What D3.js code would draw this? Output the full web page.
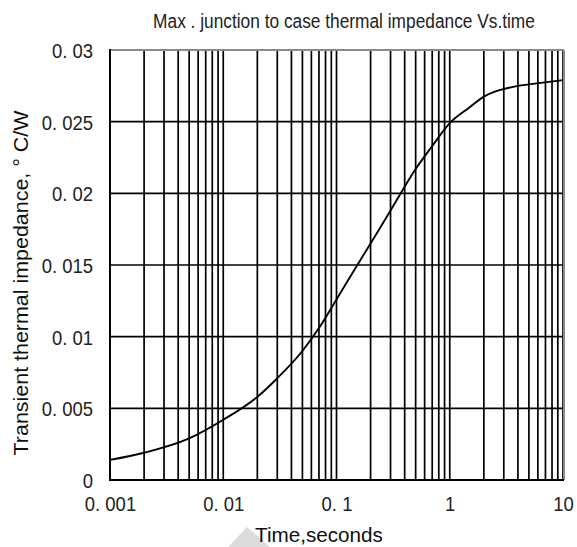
<!DOCTYPE html>
<html><head><meta charset="utf-8">
<script src="https://cdn.jsdelivr.net/npm/d3@7"></script>
<style>body{margin:0;background:#fff}svg{display:block}</style>
</head><body><svg id="c" width="577" height="547"></svg>
<script>
// ---- data ----
const times = [0.001, 0.002, 0.005, 0.01, 0.02, 0.03, 0.05, 0.07, 0.1, 0.15, 0.2, 0.3, 0.5, 0.7, 1, 1.5, 2, 2.5, 3, 4, 5, 10];
const impedance = [0.0014, 0.0019, 0.0029, 0.0042, 0.0058, 0.0071, 0.0090, 0.0106, 0.0126, 0.0149, 0.0165, 0.0188, 0.0217, 0.0233, 0.0249, 0.0260, 0.02675, 0.0271, 0.02728, 0.0275, 0.0276, 0.0279];
const xTickValues = [0.001, 0.01, 0.1, 1, 10];
const xTickLabels = ["0. 001", "0. 01", "0. 1", "1", "10"];
const yTickValues = [0, 0.005, 0.01, 0.015, 0.02, 0.025, 0.03];
const yTickLabels = ["0", "0. 005", "0. 01", "0. 015", "0. 02", "0. 025", "0. 03"];
const decades = [0.001, 0.01, 0.1, 1];
const multipliers = [1, 2, 3, 4, 5, 6, 7, 8, 9];
const title = "Max . junction to case thermal impedance Vs.time";
const xTitle = "Time,seconds";
const yTitle = "Transient thermal impedance, \u00b0 C/W";

// ---- layout ----
const L = 110, R = 563, T = 50, B = 480;
const FONT = "'Liberation Sans',Arial,sans-serif";
const SX = 0.88;
const svg = d3.select("#c");
const x = d3.scaleLog().domain([0.001, 10]).range([L, R]);
const y = d3.scaleLinear().domain([0, 0.03]).range([B, T]);

const xGrid = decades.flatMap(d => multipliers.map(m => d * m)).concat([10]);

// grid
svg.append("g").selectAll("line").data(xGrid).join("line")
  .attr("x1", d => x(d)).attr("x2", d => x(d))
  .attr("y1", T).attr("y2", B)
  .attr("stroke", "#000").attr("stroke-width", 1.7);
svg.append("g").selectAll("line").data(yTickValues).join("line")
  .attr("x1", L).attr("x2", R)
  .attr("y1", d => y(d)).attr("y2", d => y(d))
  .attr("stroke", "#000").attr("stroke-width", 1.7);

// frame: top & right grey, left & bottom black
svg.append("line").attr("x1", L).attr("x2", R + 1).attr("y1", T).attr("y2", T).attr("stroke", "#8a8a8a").attr("stroke-width", 2);
svg.append("line").attr("x1", R + 1).attr("x2", R + 1).attr("y1", T).attr("y2", B).attr("stroke", "#8a8a8a").attr("stroke-width", 2);
svg.append("line").attr("x1", L).attr("x2", L).attr("y1", T - 1).attr("y2", B + 1).attr("stroke", "#000").attr("stroke-width", 2);
svg.append("line").attr("x1", L - 1).attr("x2", R + 1).attr("y1", B).attr("y2", B).attr("stroke", "#000").attr("stroke-width", 2);

// curve
const line = d3.line().x(d => x(d[0])).y(d => y(d[1])).curve(d3.curveMonotoneX);
svg.append("path").datum(times.map((t, i) => [t, impedance[i]]))
  .attr("d", line).attr("fill", "none").attr("stroke", "#000").attr("stroke-width", 1.9);

// axes (labels only)
const xAxis = d3.axisBottom(x).tickValues(xTickValues).tickSize(0).tickPadding(0)
  .tickFormat((d, i) => xTickLabels[i]);
const gx = svg.append("g").attr("transform", `translate(0,${B})`).call(xAxis);
gx.select(".domain").remove();
gx.selectAll("text").attr("y", 31).attr("dy", null).attr("x", 0)
  .attr("transform", `scale(${SX},1)`)
  .style("font-family", FONT).style("font-size", "21px").attr("fill", "#222");

const yAxis = d3.axisLeft(y).tickValues(yTickValues).tickSize(0).tickPadding(0)
  .tickFormat((d, i) => yTickLabels[i]);
const gy = svg.append("g").attr("transform", `translate(${L},0)`).call(yAxis);
gy.select(".domain").remove();
gy.selectAll("text").attr("x", -17 / SX).attr("dy", "0.36em")
  .attr("transform", `scale(${SX},1)`)
  .style("font-family", FONT).style("font-size", "21px").attr("fill", "#222");

// decorative light grey triangle near x-axis title
svg.append("path").attr("d", "M247,527 L228,547 L270,547 Z").attr("fill", "#dcdcdc");

// titles: fit each to its measured width with a horizontal scale
function fitText(sel, width, base) {
  const w = sel.node().getComputedTextLength();
  sel.attr("transform", `${base} scale(${width / w},1)`);
}
const t1 = svg.append("text").attr("x", 0).attr("y", 0).attr("text-anchor", "middle")
  .style("font-family", FONT).style("font-size", "21px").attr("fill", "#222").text(title);
fitText(t1, 382, "translate(344,28)");
const t2 = svg.append("text").attr("x", 0).attr("y", 0).attr("text-anchor", "middle")
  .style("font-family", FONT).style("font-size", "20px").attr("fill", "#111").text(xTitle);
fitText(t2, 128, "translate(319,542)");
const t3 = svg.append("text").attr("x", 0).attr("y", 0).attr("text-anchor", "middle")
  .style("font-family", FONT).style("font-size", "21px").attr("fill", "#111").text(yTitle);
fitText(t3, 345, "translate(28,283) rotate(-90)");
</script></body></html>
